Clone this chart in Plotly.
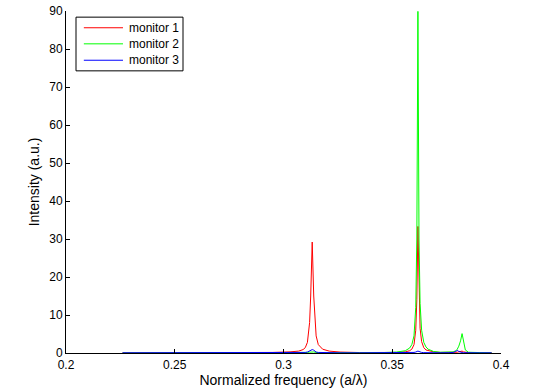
import plotly.graph_objects as go

freq = [0.226, 0.24, 0.26, 0.28, 0.295, 0.303, 0.307, 0.309, 0.310, 0.311, 0.312, 0.3125,
        0.3132, 0.3139, 0.3145, 0.315, 0.316, 0.318, 0.321, 0.326, 0.335, 0.345, 0.352,
        0.356, 0.358, 0.359, 0.360, 0.3608, 0.3613, 0.3618, 0.3623, 0.3628, 0.3635, 0.3645,
        0.3655, 0.3665, 0.3675, 0.369, 0.372, 0.376, 0.378, 0.3792, 0.3799, 0.3806, 0.3814,
        0.3821, 0.3828, 0.3836, 0.385, 0.39, 0.3957]

monitor1 = [0.02, 0.03, 0.05, 0.08, 0.15, 0.3, 0.5, 0.9, 1.4, 2.8, 8.0, 15.0,
            29.2, 15.0, 8.5, 4.5, 2.2, 1.0, 0.5, 0.25, 0.12, 0.1, 0.15,
            0.3, 0.6, 1.0, 2.2, 6.0, 14.0, 33.3, 14.0, 6.5, 3.0, 1.4,
            0.8, 0.6, 0.5, 0.3, 0.15, 0.1, 0.1, 0.15, 0.2, 0.3, 0.5,
            0.5, 0.3, 0.15, 0.08, 0.04, 0.02]

monitor2 = [0.01, 0.01, 0.01, 0.02, 0.03, 0.04, 0.06, 0.08, 0.1, 0.15, 0.22, 0.28,
            0.3, 0.28, 0.2, 0.15, 0.1, 0.07, 0.05, 0.05, 0.06, 0.1, 0.25,
            0.6, 1.3, 2.2, 4.5, 12.0, 30.0, 89.9, 30.0, 13.0, 6.0, 2.8,
            1.6, 1.0, 0.8, 0.4, 0.2, 0.15, 0.3, 0.6, 1.0, 1.8, 3.2,
            5.1, 2.5, 0.8, 0.2, 0.05, 0.02]

monitor3 = [0.05, 0.05, 0.05, 0.05, 0.05, 0.06, 0.08, 0.1, 0.15, 0.25, 0.5, 0.75,
            0.9, 0.75, 0.45, 0.25, 0.15, 0.1, 0.07, 0.05, 0.05, 0.05, 0.05,
            0.06, 0.08, 0.1, 0.15, 0.25, 0.4, 0.5, 0.4, 0.25, 0.15, 0.1,
            0.08, 0.07, 0.06, 0.06, 0.06, 0.08, 0.15, 0.4, 0.7, 0.4, 0.2,
            0.12, 0.08, 0.06, 0.05, 0.05, 0.05]

names = ["monitor 1", "monitor 2", "monitor 3"]
colors = ["#ff0000", "#00ff00", "#0000ff"]

x_ticks = [0.2, 0.25, 0.3, 0.35, 0.4]
x_ticklabels = ["0.2", "0.25", "0.3", "0.35", "0.4"]
y_ticks = [0, 10, 20, 30, 40, 50, 60, 70, 80, 90]

fig = go.Figure()
for name, ys, c in zip(names, [monitor1, monitor2, monitor3], colors):
    fig.add_trace(go.Scatter(x=freq, y=ys, mode="lines", name=name,
                             line=dict(color=c, width=1), showlegend=False))

font = dict(family="Liberation Sans, Arial, Helvetica, sans-serif", size=12, color="black")

# MATLAB-style legend box (drawn in paper coordinates)
shapes = [dict(type="rect", xref="paper", yref="paper", x0=0.023, x1=0.269,
               y0=0.825, y1=0.982, line=dict(color="black", width=1),
               fillcolor="white", layer="above")]
annotations = []
legend_y = [0.951, 0.904, 0.856]
for name, c, ly in zip(names, colors, legend_y):
    shapes.append(dict(type="line", xref="paper", yref="paper", x0=0.041, x1=0.131,
                       y0=ly, y1=ly, line=dict(color=c, width=1), layer="above"))
    annotations.append(dict(xref="paper", yref="paper", x=0.140, y=ly, text=name,
                            showarrow=False, xanchor="left", yanchor="middle",
                            font=dict(size=12)))

fig.update_layout(
    width=535, height=391,
    margin=dict(l=66, r=34, t=11, b=38),
    paper_bgcolor="white", plot_bgcolor="white",
    font=font,
    showlegend=False,
    shapes=shapes,
    annotations=annotations,
    xaxis=dict(range=[0.2, 0.4], tickvals=x_ticks, ticktext=x_ticklabels,
               showgrid=False, zeroline=False, showline=True, linecolor="black",
               linewidth=1, ticks="inside", ticklen=4, tickcolor="black",
               automargin=False, ticklabelstandoff=1,
               title=dict(text="Normalized frequency (a/λ)", standoff=0)),
    yaxis=dict(range=[0, 90], tickvals=y_ticks,
               showgrid=False, zeroline=False, showline=True, linecolor="black",
               linewidth=1, ticks="inside", ticklen=4, tickcolor="black",
               automargin=False,
               title=dict(text="Intensity (a.u.)", standoff=6)),
)

fig.write_html("out.html", config={"displayModeBar": False},
               post_script="document.body.style.margin='0';document.body.style.padding='0';")
